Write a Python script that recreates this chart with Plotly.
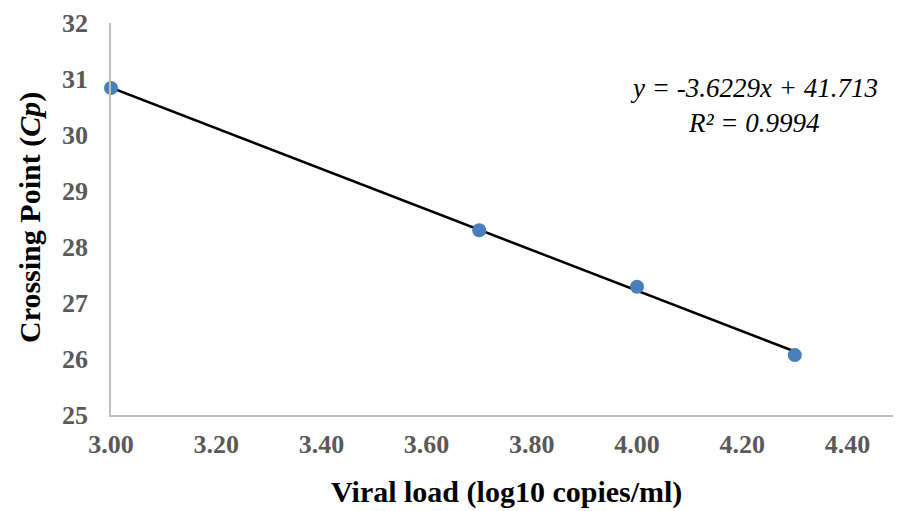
import plotly.graph_objects as go

# Data
viral_load = [3.00, 3.70, 4.00, 4.30]
crossing_point = [30.84, 28.30, 27.29, 26.07]
slope = -3.6229
intercept = 41.713
r_squared = 0.9994
x_ticks = [3.00, 3.20, 3.40, 3.60, 3.80, 4.00, 4.20, 4.40]
y_ticks = [25, 26, 27, 28, 29, 30, 31, 32]

trend_x = [min(viral_load), max(viral_load)]
trend_y = [slope * v + intercept for v in trend_x]

fig = go.Figure()
fig.add_trace(go.Scatter(
    x=trend_x, y=trend_y, mode="lines",
    line=dict(color="black", width=2.5),
    showlegend=False, hoverinfo="skip"))
fig.add_trace(go.Scatter(
    x=viral_load, y=crossing_point, mode="markers",
    marker=dict(color="#4a7ebb", size=14, line=dict(width=0)),
    showlegend=False, hoverinfo="x+y", cliponaxis=False))

serif = "Liberation Serif, Times New Roman, serif"

# page offset of 8px (default body margin) is compensated in size/margins
PX0, PX1, PY0, PY1 = 111, 900, 23, 415


def px(x):
    return (x - PX0) / (PX1 - PX0)


def py(y):
    return 1 - (y - PY0) / (PY1 - PY0)


fig.update_layout(
    width=893, height=503,
    margin=dict(l=103, r=1, t=15, b=96, autoexpand=False),
    paper_bgcolor="white", plot_bgcolor="white",
    font=dict(family=serif),
    xaxis=dict(
        range=[3.0, 4.5], tickvals=x_ticks,
        ticktext=[f"{v:.2f}" for v in x_ticks],
        showgrid=False, zeroline=False,
        showline=True, linecolor="#bfbfbf", linewidth=1.5,
        ticks="", ticklabelstandoff=5, automargin=False,
        tickfont=dict(family=serif, size=26, color="#595959", weight="bold"),
    ),
    yaxis=dict(
        range=[25, 32], tickvals=y_ticks,
        showgrid=False, zeroline=False,
        showline=True, linecolor="#bfbfbf", linewidth=1.5,
        ticks="", ticklabelstandoff=16, automargin=False,
        tickfont=dict(family=serif, size=26, color="#595959", weight="bold"),
    ),
    annotations=[
        dict(xref="paper", yref="paper", x=px(754), y=py(88),
             text=f"<i>y = {slope}x + {intercept}</i>", showarrow=False,
             xanchor="center", yanchor="middle",
             font=dict(family=serif, size=27, color="black")),
        dict(xref="paper", yref="paper", x=px(754), y=py(123),
             text=f"<i>R² = {r_squared}</i>", showarrow=False,
             xanchor="center", yanchor="middle",
             font=dict(family=serif, size=27, color="black")),
        dict(xref="paper", yref="paper", x=px(506), y=py(492),
             text="<b>Viral load (log10 copies/ml)</b>", showarrow=False,
             xanchor="center", yanchor="middle",
             font=dict(family=serif, size=30, color="black")),
        dict(xref="paper", yref="paper", x=px(30), y=py(218),
             text="<b>Crossing Point (<i>Cp</i>)</b>", showarrow=False,
             textangle=-90, xanchor="center", yanchor="middle",
             font=dict(family=serif, size=30, color="black")),
    ],
)

fig.write_html("out.html")
